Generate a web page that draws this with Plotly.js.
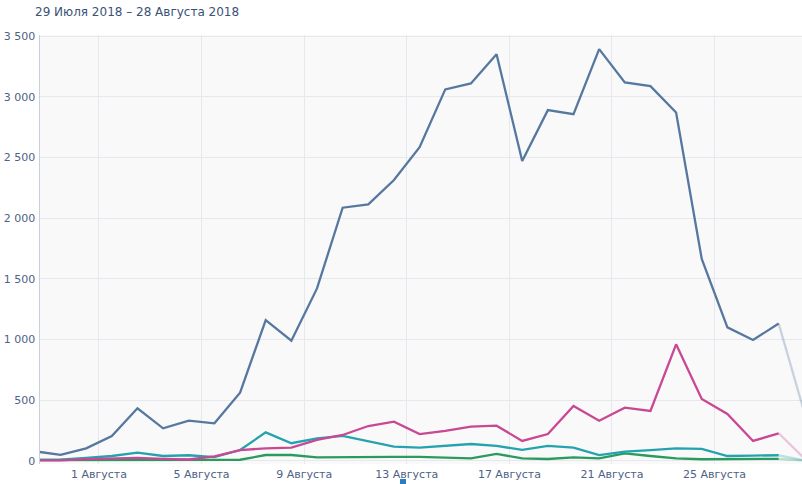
<!DOCTYPE html>
<html>
<head>
<meta charset="utf-8">
<script src="https://cdn.plot.ly/plotly-3.0.1.min.js"></script>
<style>
html,body{margin:0;padding:0;background:#fff;}
#chart{width:802px;height:484px;}
</style>
</head>
<body>
<div id="chart"></div>
<script>
// Daily points, 29 July 2018 – 28 August 2018 (last day incomplete, drawn faded)
const dates = [
  '2018-07-29','2018-07-30','2018-07-31','2018-08-01','2018-08-02','2018-08-03','2018-08-04',
  '2018-08-05','2018-08-06','2018-08-07','2018-08-08','2018-08-09','2018-08-10','2018-08-11',
  '2018-08-12','2018-08-13','2018-08-14','2018-08-15','2018-08-16','2018-08-17','2018-08-18',
  '2018-08-19','2018-08-20','2018-08-21','2018-08-22','2018-08-23','2018-08-24','2018-08-25',
  '2018-08-26','2018-08-27','2018-08-28'
];
const blueSeries  = [80, 50, 104, 206, 434, 269, 332, 310, 563, 1161, 991, 1422, 2087, 2114, 2315, 2586, 3062, 3111, 3352, 2471, 2891, 2858, 3394, 3119, 3089, 2872, 1665, 1101, 997, 1132, 400];
const pinkSeries  = [5, 5, 15, 20, 25, 18, 12, 38, 90, 104, 110, 173, 214, 288, 324, 222, 248, 283, 291, 165, 222, 453, 332, 439, 412, 961, 511, 387, 165, 228, 20];
const tealSeries  = [8, 10, 25, 41, 68, 41, 47, 32, 90, 236, 146, 187, 206, 165, 118, 110, 124, 140, 124, 91, 124, 110, 49, 77, 90, 104, 99, 41, 44, 47, 5];
const greenSeries = [8, 8, 8, 8, 8, 8, 8, 8, 10, 49, 49, 30, 33, 30, 33, 33, 30, 22, 58, 22, 16, 30, 22, 63, 41, 22, 14, 14, 14, 18, 3];
const tickDates  = ['2018-08-01','2018-08-05','2018-08-09','2018-08-13','2018-08-17','2018-08-21','2018-08-25'];
const tickLabels = ['1 Августа','5 Августа','9 Августа','13 Августа','17 Августа','21 Августа','25 Августа'];
const subtitle = '29 Июля 2018 – 28 Августа 2018';

// points sit at midday of each day
const xs = dates.map(d => d + ' 12:00');
const n = xs.length;

const series = [
  {y: greenSeries, color: '#2a9a5e', faded: 'rgba(42,154,94,0.3)'},
  {y: tealSeries,  color: '#24a3ae', faded: 'rgba(36,163,174,0.3)'},
  {y: pinkSeries,  color: '#c84894', faded: 'rgba(200,72,148,0.3)'},
  {y: blueSeries,  color: '#56789f', faded: 'rgba(86,120,159,0.3)'}
];

const traces = [];
series.forEach(s => {
  traces.push({
    x: xs.slice(0, n - 1), y: s.y.slice(0, n - 1),
    type: 'scatter', mode: 'lines',
    line: {color: s.color, width: 2.3},
    hoverinfo: 'skip', showlegend: false
  });
  traces.push({
    x: xs.slice(n - 2), y: s.y.slice(n - 2),
    type: 'scatter', mode: 'lines',
    line: {color: s.faded, width: 2.3},
    hoverinfo: 'skip', showlegend: false
  });
});

const tickFont = {family: 'DejaVu Sans, Verdana, sans-serif', size: 11, color: '#4e6284'};

const layout = {
  width: 802, height: 484,
  margin: {l: 40, r: 0, t: 35, b: 20, pad: 0},
  paper_bgcolor: '#ffffff',
  plot_bgcolor: '#f9f9fa',
  separators: ', ',
  showlegend: false,
  title: {
    text: subtitle,
    font: {family: 'DejaVu Sans, Verdana, sans-serif', size: 12, color: '#3a5277'},
    xref: 'container', yref: 'container',
    x: 35 / 802, xanchor: 'left',
    y: 1 - 12 / 484, yanchor: 'middle'
  },
  xaxis: {
    type: 'date',
    range: ['2018-07-29 16:48', '2018-08-28 09:48'],
    tickmode: 'array', tickvals: tickDates, ticktext: tickLabels,
    tickfont: tickFont,
    showgrid: true, gridcolor: '#e6e8ed', gridwidth: 1,
    zeroline: false, showline: false, ticks: '',
    ticklabelstandoff: 2,
    fixedrange: true
  },
  yaxis: {
    range: [-25, 3510],
    tick0: 0, dtick: 500, tickformat: ',d',
    tickfont: tickFont,
    showgrid: true, gridcolor: '#e6e8ed', gridwidth: 1,
    zeroline: false,
    showline: true, linecolor: '#c8d0db', linewidth: 1.5,
    ticks: '', ticklabelstandoff: 1,
    fixedrange: true
  },
  shapes: [{
    type: 'rect', xref: 'paper', yref: 'paper',
    x0: (400 - 40) / 762, x1: (406 - 40) / 762,
    y0: (464 - 484) / 429, y1: (464 - 479) / 429,
    fillcolor: '#2b7dc0', line: {width: 0}
  }]
};

Plotly.newPlot('chart', traces, layout, {displayModeBar: false, staticPlot: true});
</script>
</body>
</html>
